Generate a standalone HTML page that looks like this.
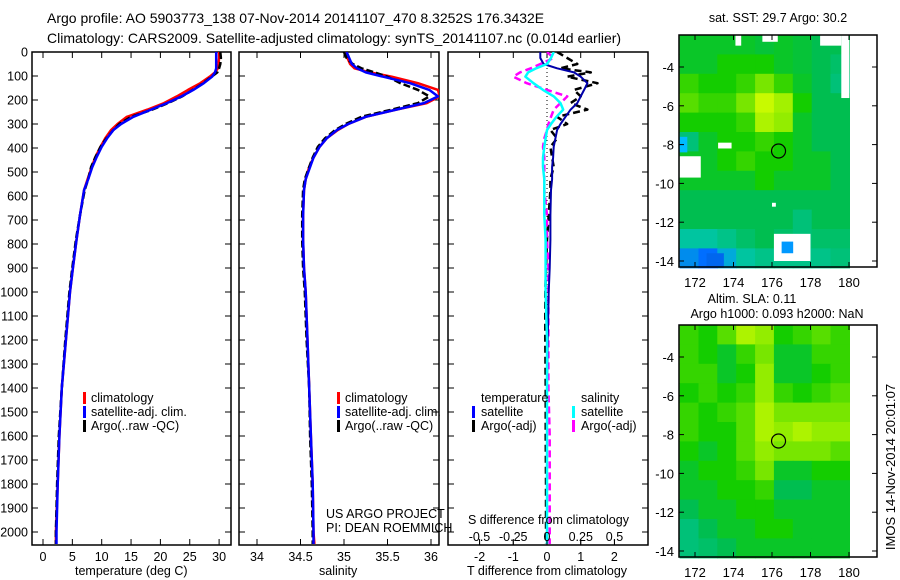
<!DOCTYPE html>
<html><head><meta charset="utf-8"><style>
body{margin:0;background:#fff;}
svg{display:block;font-family:"Liberation Sans",sans-serif;}
</style></head><body>
<svg id="chart" width="900" height="580" viewBox="0 0 900 580">
<text x="47" y="23" font-size="14">Argo profile: AO 5903773_138 07-Nov-2014 20141107_470 8.3252S 176.3432E</text>
<text x="47" y="43" font-size="14">Climatology: CARS2009. Satellite-adjusted climatology: synTS_20141107.nc (0.014d earlier)</text>
<g id="g"></g>
</svg>
<script>
// ---- data ----
const depthLevels=[0,25,50,68,85,103,130,158,185,213,240,270,300,325,360,395,440,479,530,575,680,783,900,1000,1200,1400,1600,1800,2000,2050];
const tempClim=[30.0,30.0,29.9,29.8,29.3,28.4,26.8,24.7,22.8,20.6,17.8,14.3,12.7,11.6,10.6,9.8,8.9,8.3,7.6,7.0,6.3,5.7,5.1,4.6,3.9,3.2,2.8,2.5,2.2,2.2];
const tempSat=[29.5,29.5,29.5,29.5,29.3,28.8,27.4,25.6,23.6,21.1,18.4,15.4,13.3,12.0,10.9,10.0,9.1,8.4,7.7,7.0,6.3,5.7,5.1,4.6,3.9,3.2,2.8,2.5,2.3,2.3];
const tempArgo=[30.2,30.3,30.2,30.0,29.7,28.7,27.3,25.5,23.7,21.3,18.6,15.0,13.0,12.0,10.8,9.8,8.9,8.2,7.7,7.1,6.3,5.6,5.0,4.5,3.8,3.2,2.7,2.4,2.2,2.2];
const salClim=[35.02,35.04,35.07,35.12,35.3,35.55,35.85,36.08,36.1,35.95,35.6,35.25,35.05,34.93,34.8,34.72,34.65,34.6,34.56,34.54,34.53,34.53,34.54,34.56,34.58,34.6,34.62,34.64,34.65,34.66];
const salSat=[35.03,35.06,35.09,35.15,35.25,35.45,35.76,35.98,36.08,35.92,35.6,35.25,35.05,34.92,34.8,34.72,34.65,34.61,34.56,34.54,34.53,34.53,34.54,34.56,34.58,34.6,34.62,34.64,34.65,34.65];
const salArgo=[35.0,35.03,35.1,35.2,35.35,35.5,35.65,35.85,35.98,35.85,35.55,35.2,35.02,34.9,34.78,34.7,34.64,34.6,34.55,34.53,34.52,34.52,34.53,34.55,34.57,34.6,34.61,34.63,34.64,34.64];
const dTSat=[-0.2,-0.2,-0.1,0.3,0.8,1.0,1.2,1.1,1.0,0.9,0.7,0.55,0.4,0.3,0.25,0.2,0.18,0.15,0.15,0.12,0.1,0.1,0.08,0.05,0.02,0.0,0.0,0.0,0.0,0.0];
const dTArgo=[0.3,0.6,0.9,0.4,1.3,0.6,1.5,0.8,1.0,0.7,1.2,0.3,0.6,0.1,0.3,0.1,0.15,0.2,0.1,0.1,0.05,0.0,-0.03,-0.05,-0.05,-0.04,-0.04,-0.03,-0.03,-0.03];
const dSSat=[0.05,0.03,0.0,-0.08,-0.14,-0.16,-0.1,-0.03,0.05,0.1,0.12,0.07,0.03,0.0,-0.01,-0.02,-0.03,-0.03,-0.02,-0.02,-0.02,-0.01,-0.01,-0.01,0.0,0.0,0.0,0.0,0.0,0.0];
const dSArgo=[0.0,0.05,-0.05,-0.12,-0.2,-0.25,-0.15,0.0,0.15,0.1,0.05,0.03,0.01,0.0,-0.02,-0.03,-0.02,-0.02,-0.02,-0.02,0.0,0.0,0.01,0.01,0.01,0.01,0.02,0.02,0.02,0.02];
const depthTicks=[0,100,200,300,400,500,600,700,800,900,1000,1100,1200,1300,1400,1500,1600,1700,1800,1900,2000];
const tempTicks=[0,5,10,15,20,25,30];
const salTicks=[34,34.5,35,35.5,36];
const dTTicks=[-2,-1,0,1,2];
const dSTicks=[-0.5,-0.25,0,0.25,0.5];
const dSTickLabels=["-0.5","-0.25","0","0.25","0.5"];
const lonTicks=[172,174,176,178,180];
const latTicks=[-4,-6,-8,-10,-12,-14];
const mapLons=[171.2,172.18,173.16,174.14,175.12,176.1,177.08,178.06,179.04,180.02];
const mapLats=[-2.35,-3.35,-4.35,-5.35,-6.35,-7.35,-8.35,-9.35,-10.35,-11.35,-12.35,-13.35,-14.35];
const sstGrid=[
[0.5,0.5,0.5,0.5,0.48,0.5,0.48,0.45,0.45],
[0.5,0.5,0.55,0.55,0.55,0.5,0.48,0.45,0.42],
[0.6,0.55,0.55,0.6,0.7,0.6,0.5,0.45,0.4],
[0.65,0.6,0.6,0.7,0.85,0.78,0.55,0.45,0.45],
[0.55,0.55,0.55,0.6,0.8,0.75,0.5,0.45,0.45],
[0.4,0.5,0.55,0.55,0.6,0.55,0.5,0.45,0.45],
[0.5,0.5,0.55,0.6,0.55,0.55,0.5,0.5,0.45],
[0.5,0.5,0.5,0.5,0.55,0.5,0.5,0.5,0.45],
[0.45,0.45,0.45,0.45,0.45,0.45,0.45,0.45,0.45],
[0.45,0.45,0.45,0.45,0.45,0.45,0.4,0.45,0.45],
[0.35,0.35,0.38,0.42,0.45,0.42,0.4,0.42,0.42],
[0.2,0.15,0.25,0.35,0.38,0.38,0.38,0.38,0.4]];
const slaGrid=[
[0.6,0.55,0.65,0.8,0.75,0.55,0.6,0.65,0.6],
[0.6,0.55,0.5,0.6,0.7,0.5,0.5,0.6,0.6],
[0.6,0.6,0.5,0.55,0.75,0.5,0.5,0.55,0.6],
[0.55,0.6,0.55,0.6,0.75,0.6,0.55,0.6,0.65],
[0.6,0.55,0.6,0.65,0.8,0.7,0.7,0.7,0.7],
[0.6,0.55,0.55,0.65,0.8,0.75,0.8,0.75,0.75],
[0.55,0.5,0.55,0.65,0.75,0.7,0.7,0.7,0.65],
[0.5,0.55,0.55,0.6,0.7,0.5,0.5,0.55,0.55],
[0.5,0.5,0.55,0.55,0.6,0.45,0.45,0.5,0.5],
[0.45,0.5,0.5,0.55,0.55,0.5,0.5,0.5,0.5],
[0.4,0.45,0.5,0.5,0.55,0.55,0.5,0.5,0.5],
[0.4,0.42,0.45,0.5,0.5,0.5,0.5,0.5,0.5]];
const argoLon=176.34, argoLat=-8.33;

// ---- helpers ----
const NS="http://www.w3.org/2000/svg";
const G=document.getElementById('g');
function mk(tag,attrs,parent){const e=document.createElementNS(NS,tag);for(const k in attrs)e.setAttribute(k,attrs[k]);(parent||G).appendChild(e);return e;}
const yD=d=>52+d*0.24;
const PT=52,PB=545;
function panelFrame(x0,x1,name){
  const r=mk('rect',{x:x0,y:PT,width:x1-x0,height:PB-PT,fill:'none',stroke:'#000','stroke-width':1.5});
  
  
  depthTicks.forEach(d=>{
    const y=yD(d);
    mk('line',{x1:x0,x2:x0+6,y1:y,y2:y,stroke:'#000'});
    mk('line',{x1:x1-6,x2:x1,y1:y,y2:y,stroke:'#000'});
  });
}
function xTicks(xs,labels,x0,x1,name){
  xs.forEach((x,i)=>{
    mk('line',{x1:x,x2:x,y1:PB,y2:PB-6,stroke:'#000'});
    mk('line',{x1:x,x2:x,y1:PT,y2:PT+6,stroke:'#000'});
    const t=mk('text',{x:x,y:PB+16,'font-size':12.5,'text-anchor':'middle'});t.textContent=labels[i];
    
    
  });
}
function line(vals,xf,color,w,dash,name,clip){
  const pts=vals.map((v,i)=>xf(v).toFixed(1)+','+yD(depthLevels[i]).toFixed(1)).join(' ');
  const p=mk('polyline',{points:pts,fill:'none',stroke:color,'stroke-width':w,'stroke-linejoin':'round'});
  if(dash)p.setAttribute('stroke-dasharray',dash);
  if(clip)p.setAttribute('clip-path','url(#'+clip+')');
  
  
}
function txt(x,y,s,name,size,anchor){
  const t=mk('text',{x:x,y:y,'font-size':size||12.5,'text-anchor':anchor||'start'});t.textContent=s;
  
  
  return t;
}
function legendMark(x,y,color,name){
  const r=mk('rect',{x:x,y:y-10,width:3,height:12,fill:color});
  
  
}
const defs=mk('defs',{});
[['c1',32,231],['c2',239,439],['c3',448,648]].forEach(c=>{const cp=mk('clipPath',{id:c[0]},defs);mk('rect',{x:c[1],y:PT,width:c[2]-c[1],height:PB-PT},cp);});

// y labels
depthTicks.forEach(d=>{
  txt(28,yD(d)+4.5,String(d),'depth-tick-label',12.5,'end');
});

// panel 1 temperature
const xT=v=>43+v*5.87;
panelFrame(32,231,'temperature-panel');
xTicks(tempTicks.map(xT),tempTicks.map(String),32,231,'temperature');
line(tempClim,xT,'#f00',2.5,null,'temperature-climatology-line','c1');
line(tempArgo,xT,'#000',2.5,'7 3','temperature-argo-line','c1');
line(tempSat,xT,'#00f',2.5,null,'temperature-satellite-line','c1');
txt(75,575,'temperature (deg C)','temperature-axis-title',12.5);
legendMark(83,402,'#f00','legend-climatology-marker');txt(91,402,'climatology','legend-climatology',12.5);
legendMark(83,416,'#00f','legend-satellite-marker');txt(91,416,'satellite-adj. clim.','legend-satellite-adj',12.5);
legendMark(83,430,'#000','legend-argo-marker');txt(91,430,'Argo(..raw -QC)','legend-argo',12.5);

// panel 2 salinity
const xS=v=>257+(v-34)*87;
panelFrame(239,439,'salinity-panel');
xTicks(salTicks.map(xS),salTicks.map(String),239,439,'salinity');
line(salClim,xS,'#f00',2.5,null,'salinity-climatology-line','c2');
line(salArgo,xS,'#000',2.5,'7 3','salinity-argo-line','c2');
line(salSat,xS,'#00f',2.5,null,'salinity-satellite-line','c2');
txt(319,575,'salinity','salinity-axis-title',12.5);
legendMark(337,402,'#f00','legend2-climatology-marker');txt(345,402,'climatology','legend2-climatology',12.5);
legendMark(337,416,'#00f','legend2-satellite-marker');txt(345,416,'satellite-adj. clim.','legend2-satellite-adj',12.5);
legendMark(337,430,'#000','legend2-argo-marker');txt(345,430,'Argo(..raw -QC)','legend2-argo',12.5);
txt(326,518,'US ARGO PROJECT','project-label',12.5);
txt(326,532,'PI: DEAN ROEMMICH','pi-label',12.5);

// panel 3 differences
const xdT=v=>547+v*33.7;
const xdS=v=>547+v*135;
panelFrame(448,648,'difference-panel');
xTicks(dTTicks.map(xdT),dTTicks.map(String),448,648,'t-difference');
mk('line',{x1:547,x2:547,y1:PT,y2:PB,stroke:'#000','stroke-dasharray':'1 3'});
line(dTArgo,xdT,'#000',2.5,'7 4','t-diff-argo-line','c3');
line(dSArgo,xdS,'#f0f',2.5,'7 4','s-diff-argo-line','c3');
line(dTSat,xdT,'#00a',2,null,'t-diff-satellite-line','c3');
line(dSSat,xdS,'#0ff',2.5,null,'s-diff-satellite-line','c3');
dSTicks.forEach((v,i)=>{const x=xdS(v);mk('line',{x1:x,x2:x,y1:PB-5,y2:PB,stroke:'#000'});txt(x,541,dSTickLabels[i],'s-difference-tick-label',12.5,'middle');});
txt(468,524,'S difference from climatology','s-difference-axis-title',12.5);
txt(467,575,'T difference from climatology','t-difference-axis-title',12.5);
txt(481,402,'temperature','legend3-temperature-header',12.5);
legendMark(472,416,'#00f','legend3-t-satellite-marker');txt(481,416,'satellite','legend3-t-satellite',12.5);
legendMark(472,430,'#000','legend3-t-argo-marker');txt(481,430,'Argo(-adj)','legend3-t-argo',12.5);
txt(581,402,'salinity','legend3-salinity-header',12.5);
legendMark(572,416,'#0ff','legend3-s-satellite-marker');txt(581,416,'satellite','legend3-s-satellite',12.5);
legendMark(572,430,'#f0f','legend3-s-argo-marker');txt(581,430,'Argo(-adj)','legend3-s-argo',12.5);

// maps
function cmap(v){
  const stops=[[0,[0,0,150]],[0.15,[0,110,255]],[0.3,[0,200,200]],[0.45,[0,190,80]],[0.55,[20,205,0]],[0.7,[120,230,0]],[0.85,[200,250,0]],[1,[255,255,0]]];
  for(let i=1;i<stops.length;i++){if(v<=stops[i][0]){const a=stops[i-1],b=stops[i],t=(v-a[0])/(b[0]-a[0]);return 'rgb('+a[1].map((c,k)=>Math.round(c+(b[1][k]-c)*t)).join(',')+')';}}
  return 'rgb(255,255,0)';
}
function drawMap(top,grid,name,whites){
  const lx=v=>695+(v-172)*19.25;
  const ly=v=>top+32+(-4-v)*19.4;
  const g=mk('g',{});
  
  
  grid.forEach((row,r)=>row.forEach((v,c)=>{
    const x0=lx(mapLons[c]),x1=lx(mapLons[c+1]),y0=ly(mapLats[r]),y1=ly(mapLats[r+1]);
    const cell=mk('rect',{x:x0.toFixed(1),y:y0.toFixed(1),width:(x1-x0+0.6).toFixed(1),height:(y1-y0+0.6).toFixed(1),fill:cmap(v)},g);
    
    
  }));
  (whites||[]).forEach(w=>{mk('rect',{x:lx(w[0]),y:ly(w[3]),width:lx(w[1])-lx(w[0]),height:ly(w[2])-ly(w[3]),fill:w[4]||'#fff'},g);});
  mk('rect',{x:679,y:top,width:198,height:232,fill:'none',stroke:'#000','stroke-width':1.5});
  lonTicks.forEach(v=>{const x=lx(v);mk('line',{x1:x,x2:x,y1:top,y2:top+5,stroke:'#000'});mk('line',{x1:x,x2:x,y1:top+232,y2:top+227,stroke:'#000'});
    txt(x,top+252,String(v),name+'-lon-label',13,'middle');});
  latTicks.forEach(v=>{const y=ly(v);mk('line',{x1:679,x2:684,y1:y,y2:y,stroke:'#000'});mk('line',{x1:872,x2:877,y1:y,y2:y,stroke:'#000'});
    txt(674,y+5,String(v),name+'-lat-label',13,'end');});
  const c=mk('circle',{cx:lx(argoLon),cy:ly(argoLat),r:7,fill:'none',stroke:'#000','stroke-width':1.2});
  
  
}
drawMap(35,sstGrid,'sst-map',[
 [171.2,172.3,-9.7,-8.6],[173.2,173.9,-8.2,-7.9],[174.1,174.4,-2.9,-2.35],[175.5,176.3,-2.7,-2.35],[178.5,179.6,-2.9,-2.35],[179.6,180.02,-5.6,-2.35],
 [176.1,178.0,-14.0,-12.6],[176.5,177.1,-13.6,-13.0,'#09f'],[171.2,171.6,-8.4,-7.6,'#0bf'],[172.6,173.5,-14.35,-13.6,'#06e'],[176.0,176.2,-11.2,-11.0]]);
drawMap(325,slaGrid,'sla-map',[]);
txt(778,22,'sat. SST: 29.7 Argo: 30.2','sst-map-title',12.5,'middle');
txt(752,303,'Altim. SLA: 0.11','sla-map-title',12.5,'middle');
txt(777,318,'Argo h1000: 0.093 h2000: NaN','sla-map-subtitle',12.5,'middle');
const side=txt(0,0,'IMOS 14-Nov-2014 20:01:07','imos-timestamp',13,'middle');
side.setAttribute('transform','translate(895,467) rotate(-90)');
</script>
</body></html>
